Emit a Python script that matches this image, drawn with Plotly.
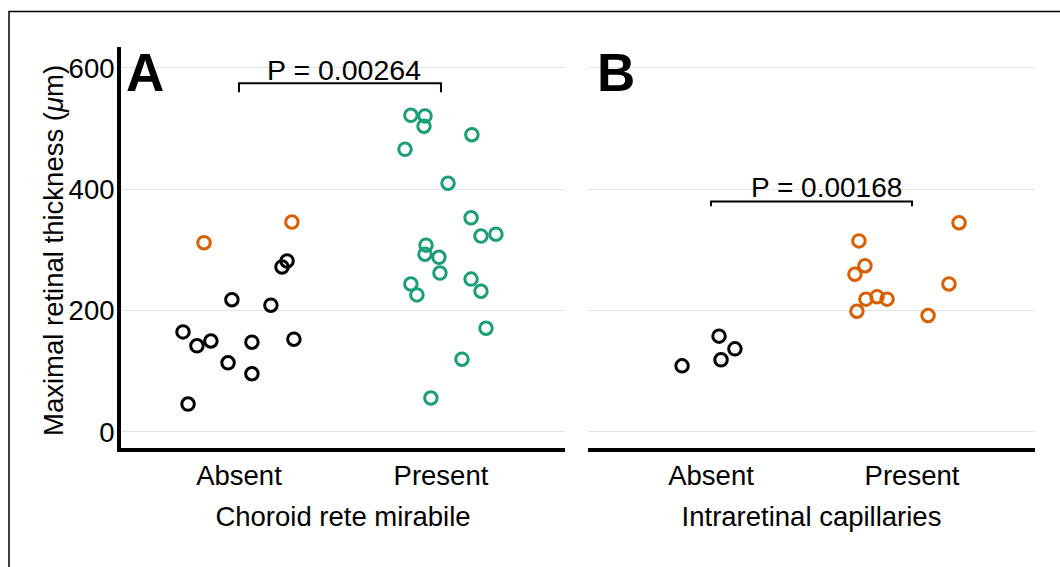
import plotly.graph_objects as go

W, H = 1060, 567

categories = ["Absent", "Present"]
y_ticks = [0, 200, 400, 600]

# Panel A: Choroid rete mirabile
a_absent_black_vals = [165, 142, 150, 218, 114, 148, 96, 209, 272, 282, 153, 46]
a_absent_black_jit = [-0.277, -0.208, -0.139, -0.035, -0.054, 0.064, 0.064, 0.158, 0.213, 0.238, 0.272, -0.252]
a_absent_orange_vals = [312, 346]
a_absent_orange_jit = [-0.173, 0.262]
a_present_green_vals = [522, 521, 504, 466, 490, 410, 353, 323, 326, 308, 293, 288, 262, 244,
                        226, 252, 232, 171, 120, 56]
a_present_green_jit = [-0.149, -0.079, -0.084, -0.178, 0.153, 0.035, 0.149, 0.198, 0.272, -0.074,
                       -0.079, -0.010, -0.005, -0.149, -0.119, 0.149, 0.198, 0.223, 0.104, -0.050]

# Panel B: Intraretinal capillaries
b_absent_black_vals = [109, 158, 119, 137]
b_absent_black_jit = [-0.144, 0.040, 0.050, 0.119]
b_present_orange_vals = [345, 315, 274, 260, 244, 219, 223, 219, 199, 192]
b_present_orange_jit = [0.234, -0.264, -0.234, -0.284, 0.184, -0.229, -0.174, -0.124, -0.274, 0.080]

p_a = "P = 0.00264"
p_b = "P = 0.00168"
bracket_a = [560, 575]
bracket_b = [372, 380]

BLACK = "#000000"
ORANGE = "#D95F02"
GREEN = "#1B9E77"
FONT = "Liberation Sans"


def px(x):
    return x / W


def py(y):
    return 1 - y / H


fig = go.Figure()


def add_points(xa, ya, base, jit, vals, color):
    fig.add_trace(go.Scatter(
        x=[base + j for j in jit], y=vals, mode="markers",
        xaxis=xa, yaxis=ya, hoverinfo="skip", showlegend=False,
        marker=dict(symbol="circle-open", size=12.5, color=color,
                    line=dict(width=3, color=color)),
    ))


add_points("x", "y", 0, a_absent_black_jit, a_absent_black_vals, BLACK)
add_points("x", "y", 0, a_absent_orange_jit, a_absent_orange_vals, ORANGE)
add_points("x", "y", 1, a_present_green_jit, a_present_green_vals, GREEN)
add_points("x2", "y2", 0, b_absent_black_jit, b_absent_black_vals, BLACK)
add_points("x2", "y2", 1, b_present_orange_jit, b_present_orange_vals, ORANGE)

# significance brackets
for xa, ya, br in [("x", "y", bracket_a), ("x2", "y2", bracket_b)]:
    fig.add_trace(go.Scatter(
        x=[0, 0, 1, 1], y=[br[0], br[1], br[1], br[0]], mode="lines",
        xaxis=xa, yaxis=ya, hoverinfo="skip", showlegend=False,
        line=dict(color=BLACK, width=2),
    ))

tickfont = dict(family=FONT, size=27.5, color=BLACK)

fig.update_layout(
    width=W, height=H,
    margin=dict(l=0, r=0, t=0, b=0),
    paper_bgcolor="white", plot_bgcolor="white",
    font=dict(family=FONT, size=27, color=BLACK),
    xaxis=dict(
        domain=[px(121), px(565)], range=[-0.584, 1.614],
        tickvals=[0, 1], ticktext=categories, tickfont=tickfont,
        showline=True, linewidth=4, linecolor=BLACK,
        showgrid=False, zeroline=False, ticks="",
        title=dict(text="Choroid rete mirabile", font=tickfont, standoff=18),
        anchor="y",
    ),
    yaxis=dict(
        domain=[py(448), py(47)], range=[-26.4, 634.6],
        tickvals=y_ticks, tickfont=tickfont, ticklabelstandoff=-3,
        showline=True, linewidth=4, linecolor=BLACK,
        showgrid=True, gridcolor="#e5e5e5", gridwidth=1.3,
        zeroline=False, ticks="",
        anchor="x",
    ),
    xaxis2=dict(
        domain=[px(588), px(1035)], range=[-0.612, 1.612],
        tickvals=[0, 1], ticktext=categories, tickfont=tickfont,
        showline=True, linewidth=4, linecolor=BLACK,
        showgrid=False, zeroline=False, ticks="",
        title=dict(text="Intraretinal capillaries", font=tickfont, standoff=18),
        anchor="y2",
    ),
    yaxis2=dict(
        domain=[py(448), py(47)], range=[-26.4, 634.6],
        tickvals=y_ticks, showticklabels=False,
        showline=False, showgrid=True, gridcolor="#e5e5e5", gridwidth=1.3,
        zeroline=False, ticks="", anchor="x2",
    ),
    shapes=[dict(type="rect", xref="paper", yref="paper",
                 x0=px(9), x1=1.05, y0=-0.05, y1=py(11.5),
                 line=dict(color=BLACK, width=1.5), fillcolor="rgba(0,0,0,0)")],
    annotations=[
        dict(text="Maximal retinal thickness (<i>μ</i>m)", xref="paper", yref="paper",
             x=px(53), y=py(251), textangle=-90, xanchor="center", yanchor="middle",
             showarrow=False, font=tickfont),
        dict(text="<b>A</b>", xref="paper", yref="paper", x=px(124), y=py(72.5),
             xanchor="left", yanchor="middle", showarrow=False,
             font=dict(family=FONT, size=53, color=BLACK)),
        dict(text="<b>B</b>", xref="paper", yref="paper", x=px(595), y=py(72),
             xanchor="left", yanchor="middle", showarrow=False,
             font=dict(family=FONT, size=53, color=BLACK)),
        dict(text=p_a, xref="x", yref="y", x=0.522, y=596,
             xanchor="center", yanchor="middle", showarrow=False,
             font=dict(family=FONT, size=28.5, color=BLACK)),
        dict(text=p_b, xref="x2", yref="y2", x=0.577, y=403,
             xanchor="center", yanchor="middle", showarrow=False,
             font=dict(family=FONT, size=28, color=BLACK)),
    ],
)

fig.write_html(
    "out.html",
    config={"displayModeBar": False},
    post_script="document.body.style.margin='0';document.body.style.overflow='hidden';",
)
